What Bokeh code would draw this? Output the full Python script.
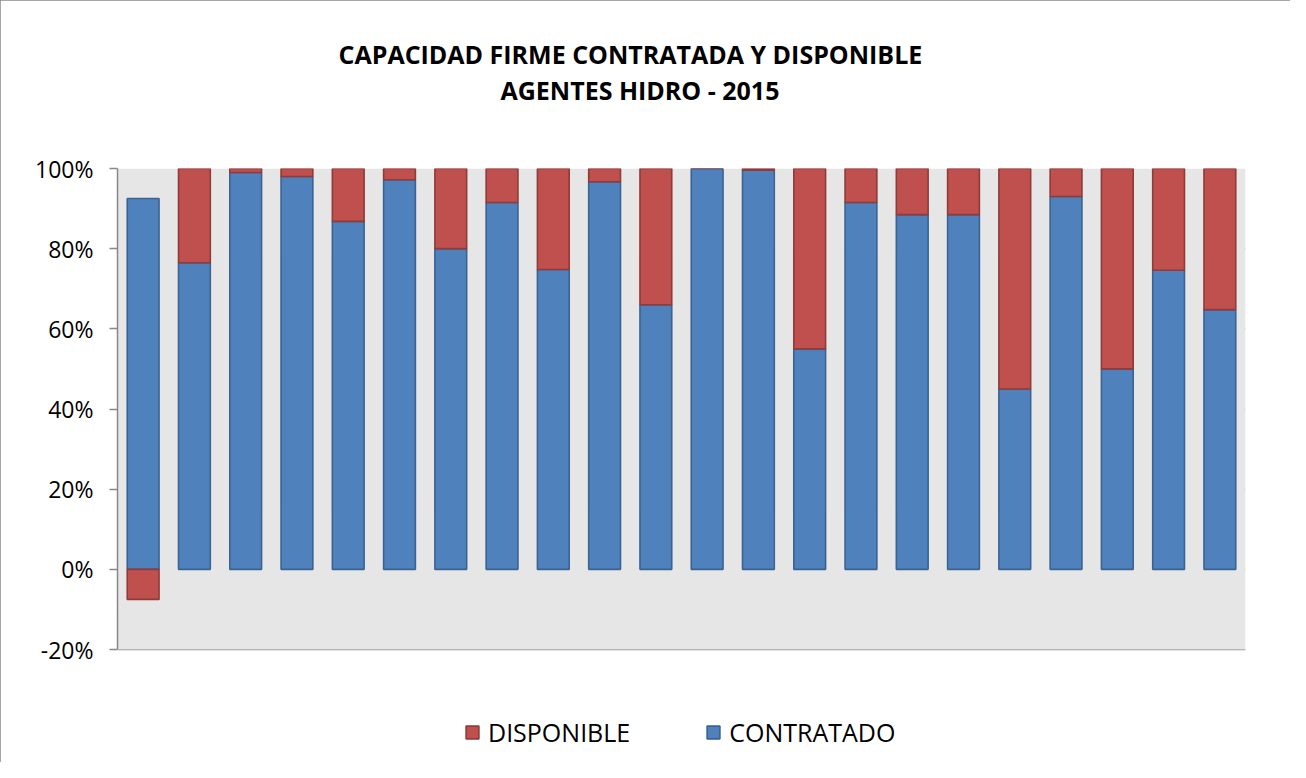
from bokeh.plotting import figure
from bokeh.models import (ColumnDataSource, Title, Legend, LegendItem, PrintfTickFormatter,
                          FixedTicker, BoxAnnotation)
from bokeh.embed import file_html
from bokeh.resources import INLINE

agents = [str(i) for i in range(1, 23)]
contratado = [92.5, 76.5, 99.0, 98.0, 86.8, 97.2, 80.0, 91.5, 74.8, 96.7, 66.0,
              100.0, 99.6, 55.0, 91.5, 88.5, 88.5, 45.0, 93.0, 50.0, 74.6, 64.8]
disponible = [-7.5, 23.5, 1.0, 2.0, 13.2, 2.8, 20.0, 8.5, 25.2, 3.3, 34.0,
              0.0, 0.4, 45.0, 8.5, 11.5, 11.5, 55.0, 7.0, 50.0, 25.4, 35.2]
y_ticks = [-20, 0, 20, 40, 60, 80, 100]

xs = list(range(len(agents)))
d_bottom = [c if d >= 0 else 0 for c, d in zip(contratado, disponible)]
d_top = [c + d if d >= 0 else d for c, d in zip(contratado, disponible)]
src = ColumnDataSource(dict(x=xs, c=contratado, db=d_bottom, dt=d_top))

# layout geometry (pixels)
W, H = 1290, 762
TOP, LEFT, RIGHT, BOTTOM = 168, 117, 45, 13
AXIS_PX = 481           # pixel height of the -20%..100% value axis
LEGEND_PX = H - TOP - BOTTOM - AXIS_PX   # room under the axis for the legend
y_min, y_max = y_ticks[0], y_ticks[-1]
y_lo = y_min - LEGEND_PX * (y_max - y_min) / AXIS_PX

FONT = "Open Sans"
p = figure(width=W, height=H, x_range=(-0.5, len(agents) - 0.5), y_range=(y_lo, y_max),
           output_backend="svg", toolbar_location=None,
           min_border_left=LEFT, min_border_right=RIGHT, min_border_bottom=BOTTOM,
           min_border_top=TOP)
p.styles = {"outline": "1px solid #8a8a8a", "outline-offset": "-1px"}
p.background_fill_color = "white"
p.border_fill_color = "white"
p.outline_line_color = None
p.add_layout(BoxAnnotation(bottom=y_min, top=y_max, fill_color="#E6E6E6", fill_alpha=1,
                           line_color=None, level="underlay"))

# spacer between frame and title lines
p.add_layout(Title(text=" ", text_font=FONT, text_font_size="25px", standoff=26), "above")
p.add_layout(Title(text="AGENTES  HIDRO - 2015", align="left", text_font=FONT,
                   text_font_size="25px", text_font_style="bold", text_color="black",
                   standoff=0, offset=383), "above")
p.add_layout(Title(text="CAPACIDAD FIRME CONTRATADA Y DISPONIBLE", align="left", text_font=FONT,
                   text_font_size="25px", text_font_style="bold", text_color="black",
                   standoff=0, offset=221), "above")

r_c = p.vbar(x="x", bottom=0, top="c", width=0.62, source=src,
             fill_color="#4F81BD", line_color="#3A6393", line_width=1.6)
r_d = p.vbar(x="x", bottom="db", top="dt", width=0.62, source=src,
             fill_color="#C0504D", line_color="#8E3B39", line_width=1.6)

p.xaxis.visible = False
p.xgrid.grid_line_color = None
p.ygrid.grid_line_color = "#888888"
p.ygrid.grid_line_width = 1.5
p.yaxis.bounds = (y_min, y_max)
p.yaxis.ticker = FixedTicker(ticks=y_ticks)
p.yaxis.formatter = PrintfTickFormatter(format="%d%%")
p.yaxis.axis_line_color = "#888888"
p.yaxis.axis_line_width = 1.5
p.yaxis.major_tick_line_color = "#888888"
p.yaxis.major_tick_line_width = 1.5
p.yaxis.major_tick_out = 8
p.yaxis.major_tick_in = 0
p.yaxis.minor_tick_line_color = None
p.yaxis.major_label_text_font = FONT
p.yaxis.major_label_text_font_size = "23px"
p.yaxis.major_label_text_color = "black"
p.yaxis.major_label_standoff = 16

legend = Legend(items=[LegendItem(label="DISPONIBLE", renderers=[r_d]),
                       LegendItem(label="CONTRATADO", renderers=[r_c])],
                orientation="horizontal", location=(347, 0))
legend.label_text_font = FONT
legend.label_text_font_size = "25px"
legend.label_text_color = "black"
legend.glyph_width = 16
legend.glyph_height = 16
legend.label_standoff = 8
legend.spacing = 75
legend.padding = 0
legend.margin = 0
legend.border_line_color = None
legend.background_fill_alpha = 0
p.add_layout(legend, "center")

open("out.html", "w").write(file_html(p, INLINE))
